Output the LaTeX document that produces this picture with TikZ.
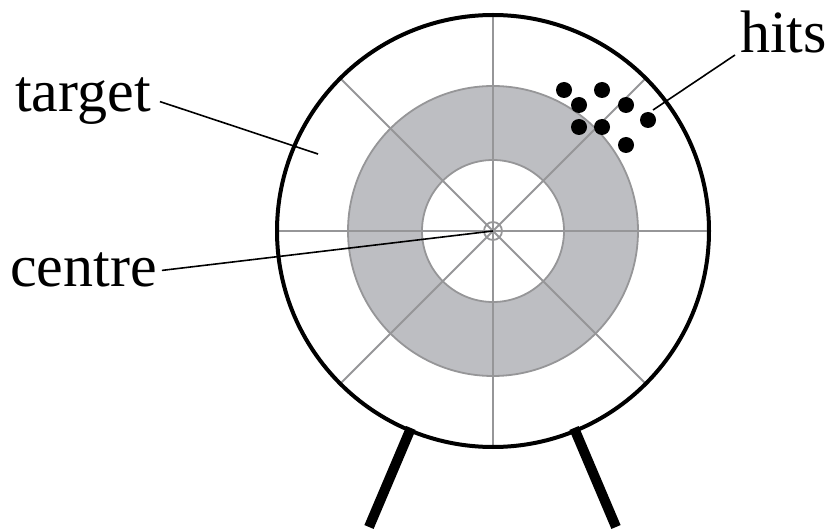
\documentclass[tikz,border=0pt]{standalone}
\usepackage{fontspec}
\setmainfont{Liberation Serif}
\usetikzlibrary{calc}
\definecolor{ringgrey}{RGB}{189,190,194}
\definecolor{spokegrey}{RGB}{150,150,152}

\begin{document}
\begin{tikzpicture}[
    x=1pt, y=-1pt,
    spoke/.style={draw=spokegrey, line width=1.8pt},
    rim/.style={draw=black, line width=4pt},
    leg/.style={draw=black, line width=10pt},
    hit/.style={fill=black},
    pointer/.style={draw=black, line width=1.6pt},
    label/.style={inner sep=0pt, font=\fontsize{60}{72}\selectfont}
]
\useasboundingbox (0,0) rectangle (833,529);

% -------------------------
% TARGET
% -------------------------
\coordinate (ctr) at (493,231);

% Legs
\draw[leg] (411,428) -- (369,527);
\draw[leg] (574,428) -- (616,527);

% Grey ring
\fill[ringgrey, even odd rule] (ctr) circle[radius=145pt] (ctr) circle[radius=71pt];
\draw[spoke] (ctr) circle[radius=145pt];
\draw[spoke] (ctr) circle[radius=71pt];

% Spokes and centre mark
\foreach \a in {0,45,90,135}
    \draw[spoke] ($(ctr)+(\a:214)$) -- ($(ctr)+(\a+180:214)$);
\draw[spoke] (ctr) circle[radius=9pt];

% Rim
\draw[rim, fill=none] (ctr) circle[radius=216pt];

% Hits
\foreach \p in {(564,90),(602,90),(579,105),(626,105),(579,127),(602,127),(648,120),(626,145)}
    \fill[hit] \p circle[radius=8pt];

% -------------------------
% LABELS
% -------------------------
\node[label, anchor=base west] (tgt) at (15,112) {target};
\node[label, anchor=base west] (cen) at (10,287) {centre};
\node[label, anchor=base west] (hits) at (740,53) {hits};

\coordinate (tgtpt) at (318,154);
\coordinate (hitpt) at (653,110);

\draw[pointer] ([xshift=9pt]tgt.east) -- (tgtpt);
\draw[pointer] ([xshift=5pt]cen.east) -- (ctr);
\draw[pointer] ([xshift=-5pt,yshift=-2pt]hits.base west) -- (hitpt);

\end{tikzpicture}
\end{document}
